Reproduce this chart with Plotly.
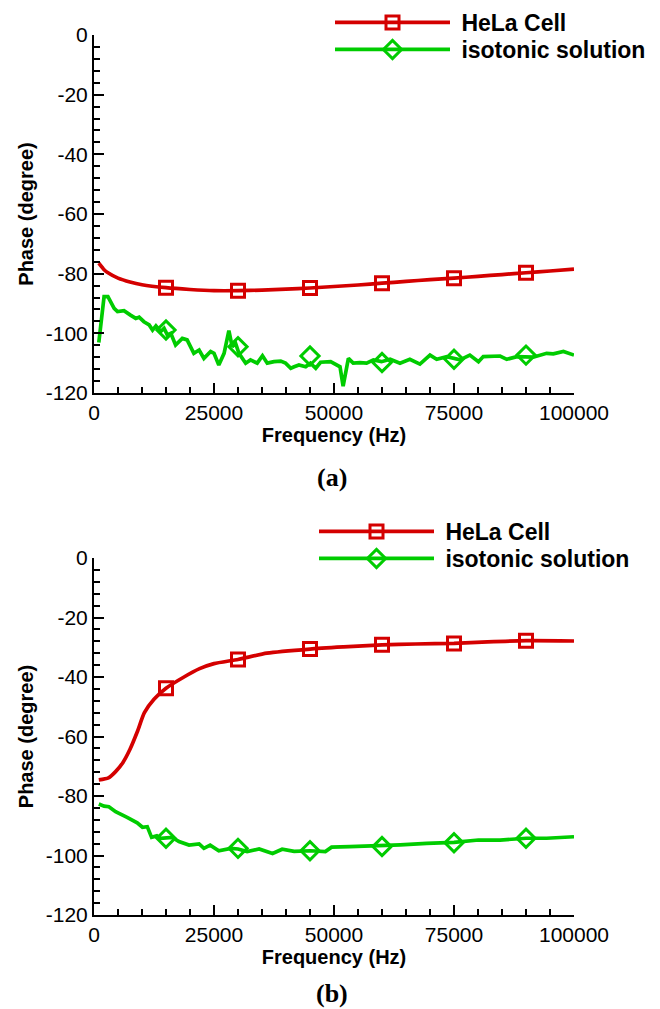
import plotly.graph_objects as go

# ---------------- data ----------------
marker_freq = [15000, 30000, 45000, 60000, 75000, 90000]

# (a)
a_red_freq = [1000, 2000, 3000, 5000, 7500, 10000, 15000, 20000, 25000, 30000, 35000, 40000,
              45000, 50000, 55000, 60000, 65000, 70000, 75000, 80000, 85000, 90000, 95000, 100000]
a_red_phase = [-76.5, -78.5, -79.8, -81.5, -82.8, -83.7, -84.7, -85.3, -85.7, -85.7, -85.5, -85.2,
               -84.8, -84.3, -83.8, -83.2, -82.6, -82.0, -81.5, -80.9, -80.3, -79.7, -79.1, -78.5]
a_red_marks = [-84.7, -85.7, -84.8, -83.2, -81.5, -79.7]

a_green_freq = [1000, 2100, 2900, 4200, 4900, 6250, 7600, 8700, 9400, 10400, 11500, 12200, 12900,
                13900, 14600, 15300, 16000, 17000, 18400, 19400, 20800, 21900, 22900, 24300, 25000,
                26000, 27100, 28100, 28800, 29500, 30200, 31600, 32600, 34000, 35100, 36100, 37500,
                38900, 39900, 41000, 41700, 42700, 44100, 45100, 46200, 47200, 49300, 51250, 51900,
                53000, 54000, 55400, 56800, 58200, 59900, 61700, 63750, 65800, 67900, 70000, 71400,
                73500, 76250, 78300, 80100, 81100, 84600, 86000, 88100, 91500, 94300, 95700, 97800,
                100000]
a_green_phase = [-103.1, -87.7, -87.7, -91.6, -92.7, -92.4, -93.9, -95.0, -94.6, -96.1, -97.2, -98.9,
                 -97.5, -99.4, -98.3, -100.6, -100.0, -103.9, -101.7, -102.2, -106.7, -105.6, -108.4,
                 -106.1, -106.7, -110.6, -106.7, -99.1, -104.5, -103.4, -106.7, -110.0, -108.9, -110.0,
                 -107.5, -110.0, -109.5, -109.3, -110.0, -111.7, -111.2, -110.6, -111.2, -110.0, -111.7,
                 -109.7, -109.5, -111.2, -117.7, -108.4, -110.0, -109.8, -110.0, -108.9, -109.5, -108.7,
                 -110.0, -108.7, -110.3, -107.3, -108.7, -107.8, -108.9, -107.3, -109.5, -107.8, -107.6,
                 -108.7, -107.8, -108.0, -106.7, -106.9, -106.1, -107.3]
a_green_marks = [-98.9, -104.5, -107.6, -109.8, -108.7, -107.3]

# (b)
b_red_freq = [1000, 3000, 4500, 6000, 7500, 9000, 10500, 12500, 15000, 18750, 22000, 25000, 30000,
              36000, 45000, 52000, 60000, 67000, 75000, 82000, 90000, 100000]
b_red_phase = [-74.6, -73.9, -71.8, -68.8, -64.3, -58.5, -52.0, -47.5, -43.8, -40.0, -37.2, -35.5,
               -34.1, -32.0, -30.6, -29.9, -29.2, -28.9, -28.7, -28.2, -27.8, -27.9]
b_red_marks = [-43.8, -34.1, -30.6, -29.2, -28.7, -27.8]

b_green_freq = [1000, 2100, 3100, 4500, 6900, 9000, 10100, 11100, 12000, 13100, 13900, 15000, 16300,
                17700, 19800, 21900, 22900, 24200, 26000, 28500, 30000, 31900, 34400, 37200, 39200,
                41700, 45100, 48200, 49500, 53300, 56800, 60000, 63800, 69300, 75000, 80100, 84600,
                90100, 94300, 100000]
b_green_phase = [-82.7, -83.4, -83.6, -85.3, -87.2, -89.0, -90.5, -90.3, -93.9, -93.4, -94.2, -94.2,
                 -93.9, -95.3, -96.5, -96.1, -97.6, -96.5, -98.4, -97.6, -97.8, -98.7, -97.8, -99.3,
                 -97.9, -98.6, -98.4, -98.7, -97.2, -97.0, -96.8, -96.8, -96.4, -95.9, -95.6, -94.8,
                 -94.8, -94.2, -94.2, -93.7]
b_green_marks = [-94.2, -97.6, -98.4, -97.0, -95.7, -94.2]

series_names = ["HeLa Cell", "isotonic solution"]
x_tick_vals = [0, 25000, 50000, 75000, 100000]
y_tick_vals = [0, -20, -40, -60, -80, -100, -120]

# ---------------- style ----------------
RED = "#D40000"
GREEN = "#00CC00"
LW = 3.7
W, H = 660, 1009
FONT = "Liberation Sans, Arial, sans-serif"
SQ = dict(symbol="square-open", size=13, color=RED, line=dict(width=3, color=RED))
DM = dict(symbol="diamond-open", size=14, color=GREEN, line=dict(width=3, color=GREEN))

fig = go.Figure()


def add_panel(xa, ya, legends, red_f, red_p, red_m, green_f, green_p, green_m):
    fig.add_trace(go.Scatter(x=red_f, y=red_p, mode="lines", line=dict(color=RED, width=LW, shape="spline", smoothing=0.6),
                             xaxis=xa, yaxis=ya, showlegend=False, hoverinfo="skip"))
    fig.add_trace(go.Scatter(x=green_f, y=green_p, mode="lines", line=dict(color=GREEN, width=LW),
                             xaxis=xa, yaxis=ya, showlegend=False, hoverinfo="skip"))
    fig.add_trace(go.Scatter(x=marker_freq, y=red_m, mode="markers", marker=SQ,
                             xaxis=xa, yaxis=ya, showlegend=False))
    fig.add_trace(go.Scatter(x=marker_freq, y=green_m, mode="markers", marker=DM,
                             xaxis=xa, yaxis=ya, showlegend=False))
    fig.add_trace(go.Scatter(x=[None], y=[None], mode="lines+markers", name="\u00a0<b>" + series_names[0] + "</b>",
                             line=dict(color=RED, width=LW), marker=SQ,
                             xaxis=xa, yaxis=ya, legend=legends[0]))
    fig.add_trace(go.Scatter(x=[None], y=[None], mode="lines+markers", name="\u00a0<b>" + series_names[1] + "</b>",
                             line=dict(color=GREEN, width=LW), marker=DM,
                             xaxis=xa, yaxis=ya, legend=legends[1]))


add_panel("x", "y", ["legend", "legend3"], a_red_freq, a_red_phase, a_red_marks,
          a_green_freq, a_green_phase, a_green_marks)
add_panel("x2", "y2", ["legend2", "legend4"], b_red_freq, b_red_phase, b_red_marks,
          b_green_freq, b_green_phase, b_green_marks)

xdom = [94 / W, 574 / W]
ydom_a = [1 - 393 / H, 1 - 35 / H]
ydom_b = [1 - 915 / H, 1 - 558 / H]

xcommon = dict(range=[0, 100000], tickvals=x_tick_vals, ticktext=[str(v) for v in x_tick_vals],
               showgrid=False, zeroline=False, showline=True, linecolor="black", linewidth=2,
               ticks="inside", ticklen=10, tickwidth=2, tickcolor="black",
               minor=dict(ticks="inside", dtick=5000, ticklen=6, tickwidth=1.5, tickcolor="black", showgrid=False),
               tickfont=dict(family=FONT, size=21, color="black"),
               title=dict(text="<b>Frequency (Hz)</b>", font=dict(family=FONT, size=20, color="black"), standoff=3))
ycommon = dict(range=[-120, 0], tickvals=y_tick_vals, ticktext=[str(v) for v in y_tick_vals],
               showgrid=False, zeroline=False, showline=True, linecolor="black", linewidth=2,
               ticks="inside", ticklen=10, tickwidth=2, tickcolor="black",
               minor=dict(ticks="inside", dtick=4, ticklen=6, tickwidth=1.5, tickcolor="black", showgrid=False),
               tickfont=dict(family=FONT, size=21, color="black"),
               title=dict(text="<b>Phase (degree)</b>", font=dict(family=FONT, size=20, color="black"), standoff=7))

legend_common = dict(font=dict(family=FONT, size=23, color="black"), bgcolor="rgba(0,0,0,0)",
                     itemwidth=115, xanchor="left", yanchor="top", tracegroupgap=0,
                     itemclick=False, itemdoubleclick=False)

fig.update_layout(
    width=W, height=H, margin=dict(l=0, r=0, t=0, b=0, autoexpand=False),
    paper_bgcolor="white", plot_bgcolor="white",
    xaxis=dict(domain=xdom, anchor="y", **xcommon),
    yaxis=dict(domain=ydom_a, anchor="x", **ycommon),
    xaxis2=dict(domain=xdom, anchor="y2", **xcommon),
    yaxis2=dict(domain=ydom_b, anchor="x2", **ycommon),
    legend=dict(x=330 / W, y=1 - 1 / H, **legend_common),
    legend3=dict(x=330 / W, y=1 - 28 / H, **legend_common),
    legend2=dict(x=314 / W, y=1 - 510 / H, **legend_common),
    legend4=dict(x=314 / W, y=1 - 537 / H, **legend_common),
    annotations=[
        dict(text="<b>(a)</b>", x=332 / W, y=1 - 477 / H, xref="paper", yref="paper", showarrow=False,
             xanchor="center", yanchor="middle",
             font=dict(family="Liberation Serif, Times New Roman, serif", size=26, color="black")),
        dict(text="<b>(b)</b>", x=332 / W, y=1 - 993 / H, xref="paper", yref="paper", showarrow=False,
             xanchor="center", yanchor="middle",
             font=dict(family="Liberation Serif, Times New Roman, serif", size=26, color="black")),
    ],
)

fig.write_html("out.html", config={"displayModeBar": False},
               post_script="document.body.style.margin='0';document.body.style.overflow='hidden';")
